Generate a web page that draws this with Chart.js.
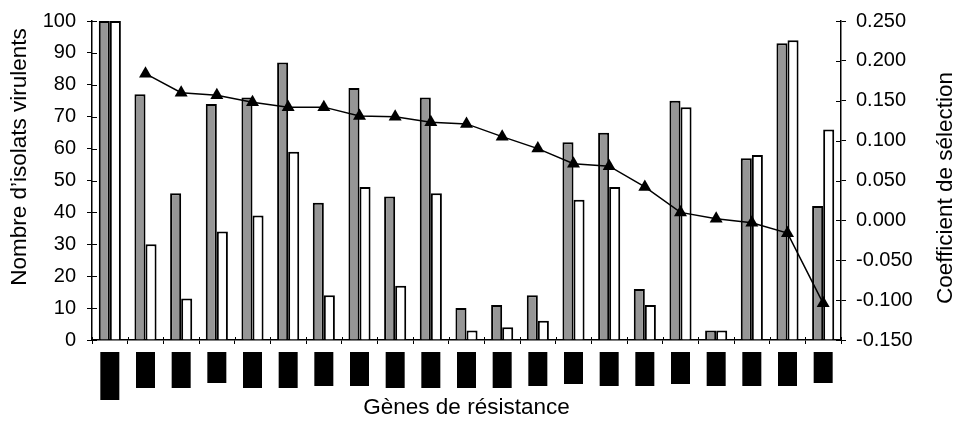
<html lang="fr">
  <head>
    <meta charset="UTF-8" />
    <title>Gènes de résistance</title>
    <script src="https://cdn.jsdelivr.net/npm/chart.js@4/dist/chart.umd.min.js"></script>
    <style>
      body { margin: 0; background: #fff; }
      #wrap { width: 957px; height: 423px; }
    </style>
  </head>
  <body>
    <div id="wrap"><canvas id="chart"></canvas></div>
    <script>
      // genes (labels are masked in the source picture)
      const genes = ["1", "2", "3", "4", "5", "6", "7", "8", "9", "10", "11",
        "12", "13", "14", "15", "16", "17", "18", "19", "20", "21"];
      // Nombre d'isolats virulents - grey bars and white bars
      const greyBars = [100, 77, 46, 74, 76, 87, 43, 79, 45, 76, 10, 11, 14, 62, 65, 16, 75, 3, 57, 93, 42];
      const whiteBars = [100, 30, 13, 34, 39, 59, 14, 48, 17, 46, 3, 4, 6, 44, 48, 11, 73, 3, 58, 94, 66];
      // Coefficient de sélection
      const selection = [null, 0.184, 0.160, 0.157, 0.148, 0.142, 0.142, 0.131, 0.130, 0.123, 0.121,
        0.105, 0.090, 0.071, 0.068, 0.042, 0.010, 0.002, -0.003, -0.016, -0.104];
      // length of the black masks over the category labels
      const maskLen = [48, 36, 36, 31, 36, 36, 34, 34, 36, 36, 36, 36, 34, 32, 34, 34, 32, 34, 34, 34, 31];

      const FONT = "'Liberation Sans', Arial, sans-serif";

      // masked labels, y titles, and the inner half of the tick marks
      const extras = {
        id: "extras",
        afterDraw(chart) {
          const ctx = chart.ctx;
          const { x, y, y2 } = chart.scales;
          const area = chart.chartArea;
          ctx.save();
          ctx.strokeStyle = "#000";
          ctx.lineWidth = 1;
          ctx.beginPath();
          y.ticks.forEach((t, i) => {
            const py = Math.round(y.getPixelForTick(i)) + 0.5;
            ctx.moveTo(area.left, py);
            ctx.lineTo(area.left + 5, py);
          });
          y2.ticks.forEach((t, i) => {
            const py = Math.round(y2.getPixelForTick(i)) + 0.5;
            ctx.moveTo(area.right, py);
            ctx.lineTo(area.right - 5, py);
          });
          for (let i = 0; i <= genes.length; i++) {
            const px = Math.round(x.getPixelForValue(i - 0.5)) + 0.5;
            ctx.moveTo(px, area.bottom);
            ctx.lineTo(px, area.bottom - 3);
          }
          ctx.stroke();

          ctx.fillStyle = "#000";
          genes.forEach((g, i) => {
            const cx = x.getPixelForValue(i);
            ctx.fillRect(cx - 9.5, area.bottom + 12, 19, maskLen[i]);
          });
          ctx.font = "22.5px " + FONT;
          ctx.textAlign = "center";
          ctx.textBaseline = "middle";
          ctx.translate(20, 157);
          ctx.rotate(-Math.PI / 2);
          ctx.fillText("Nombre d’isolats virulents", 0, 0);
          ctx.restore();
          ctx.save();
          ctx.fillStyle = "#000";
          ctx.font = "22.5px " + FONT;
          ctx.textAlign = "center";
          ctx.textBaseline = "middle";
          ctx.translate(946, 188);
          ctx.rotate(-Math.PI / 2);
          ctx.fillText("Coefficient de sélection", 0, 0);
          ctx.restore();
        },
      };

      Chart.defaults.font.family = FONT;
      Chart.defaults.color = "#000";

      new Chart(document.getElementById("chart"), {
        type: "bar",
        data: {
          labels: genes,
          datasets: [
            {
              type: "line",
              data: selection,
              yAxisID: "y2",
              order: 0,
              borderColor: "#000",
              borderWidth: 1.5,
              backgroundColor: "#000",
              pointStyle: "triangle",
              pointRadius: 7.5,
              pointBackgroundColor: "#000",
              pointBorderWidth: 0,
              tension: 0,
            },
            {
              data: greyBars,
              yAxisID: "y",
              order: 1,
              backgroundColor: "#969696",
              borderColor: "#000",
              borderWidth: 2,
              categoryPercentage: 0.62,
              barPercentage: 1,
            },
            {
              data: whiteBars,
              yAxisID: "y",
              order: 2,
              backgroundColor: "#fff",
              borderColor: "#000",
              borderWidth: 2,
              categoryPercentage: 0.62,
              barPercentage: 1,
            },
          ],
        },
        options: {
          responsive: true,
          maintainAspectRatio: false,
          animation: false,
          layout: { padding: { top: 21, bottom: 0, left: 0, right: 0 } },
          plugins: {
            legend: { display: false },
            tooltip: { enabled: false },
          },
          scales: {
            x: {
              ticks: { display: false },
              grid: { drawOnChartArea: false, color: "#000", tickLength: 4 },
              border: { color: "#000", width: 1.5 },
              title: {
                display: true,
                text: "Gènes de résistance",
                font: { size: 22.5 },
                padding: { top: 0, bottom: 2 },
              },
              afterFit(scale) { scale.height = 83; },
            },
            y: {
              position: "left",
              min: 0,
              max: 100,
              ticks: { stepSize: 10, font: { size: 20, lineHeight: 1 }, padding: 11 },
              grid: { drawOnChartArea: false, color: "#000", tickLength: 5 },
              border: { color: "#000", width: 1.5 },
              afterFit(scale) { scale.width = 92; },
            },
            y2: {
              position: "right",
              min: -0.15,
              max: 0.25,
              ticks: {
                stepSize: 0.05,
                font: { size: 20, lineHeight: 1 },
                padding: 10,
                callback: (v) => (Math.abs(v) < 1e-9 ? 0 : v).toFixed(3),
              },
              grid: { drawOnChartArea: false, color: "#000", tickLength: 5 },
              border: { color: "#000", width: 1.5 },
              afterFit(scale) { scale.width = 116; },
            },
          },
        },
        plugins: [extras],
      });
    </script>
  </body>
</html>
